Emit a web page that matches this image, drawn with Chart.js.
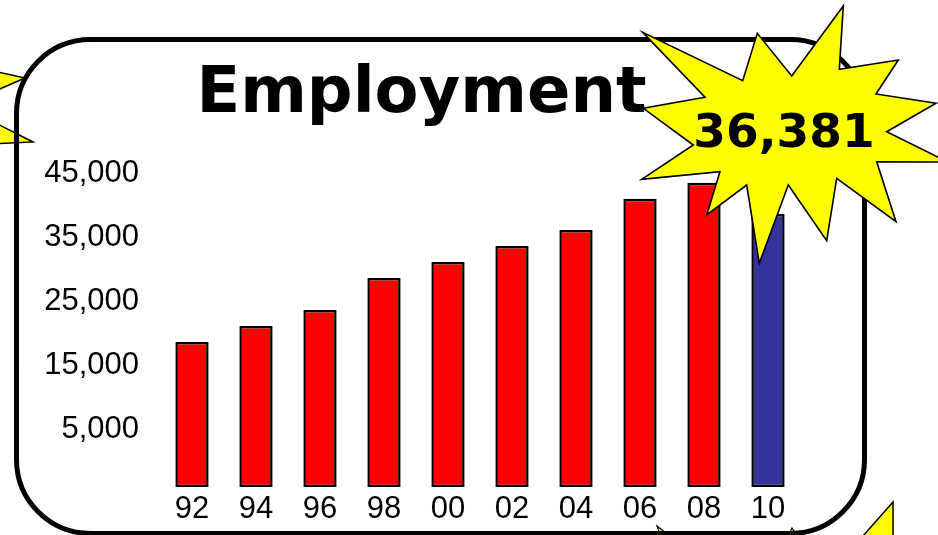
<!DOCTYPE html>
<html>
<head>
<meta charset="utf-8">
<title>Employment</title>
<script src="https://cdn.jsdelivr.net/npm/chart.js@4.4.1/dist/chart.umd.min.js"></script>
<style>
  body { margin: 0; background: #fff; }
  #mycanvas { display: block; }
</style>
</head>
<body>
<canvas id="mycanvas" width="938" height="535"></canvas>
<script>
// values (axis units)
var years = ['92', '94', '96', '98', '00', '02', '04', '06', '08', '10'];
var employment = [18300, 20800, 23300, 28300, 30800, 33300, 35800, 40700, 43200, 38300];
var barColors = ['#FF0000', '#FF0000', '#FF0000', '#FF0000', '#FF0000',
                 '#FF0000', '#FF0000', '#FF0000', '#FF0000', '#333399'];
var yTicks = [5000, 15000, 25000, 35000, 45000];
var yMin = -4390;
var yMax = 48350;
var highlight = '36,381';

function drawPoly(ctx, pts, fill, stroke, lw) {
	ctx.beginPath();
	ctx.moveTo(pts[0][0], pts[0][1]);
	for (var i = 1; i < pts.length; i++) ctx.lineTo(pts[i][0], pts[i][1]);
	ctx.closePath();
	ctx.fillStyle = fill;
	ctx.fill();
	ctx.lineWidth = lw;
	ctx.strokeStyle = stroke;
	ctx.lineJoin = 'miter';
	ctx.stroke();
}

// frame, bursts and the call-out number
var decorations = {
	id: 'decorations',
	afterDraw: function(chart) {
		var ctx = chart.ctx;
		ctx.save();

		// bits of other bursts peeking from behind the frame
		drawPoly(ctx, [[-30, 66], [25, 78], [-30, 102]], '#FFFF00', '#000', 1.5);
		drawPoly(ctx, [[-30, 110], [33, 142], [-30, 145]], '#FFFF00', '#000', 1.5);
		drawPoly(ctx, [[893, 502], [893, 545], [855, 545]], '#FFFF00', '#000', 1.5);
		drawPoly(ctx, [[657, 526], [675, 540], [662, 540]], '#FFFF00', '#000', 1.2);
		drawPoly(ctx, [[792, 528], [800, 540], [786, 540]], '#FFFF00', '#000', 1.2);

		// rounded frame
		var x0 = 16.5, y0 = 39.5, x1 = 864.5, y1 = 533.5, r = 74;
		ctx.beginPath();
		ctx.moveTo(x0 + r, y0);
		ctx.arcTo(x1, y0, x1, y1, r);
		ctx.arcTo(x1, y1, x0, y1, r);
		ctx.arcTo(x0, y1, x0, y0, r);
		ctx.arcTo(x0, y0, x1, y0, r);
		ctx.closePath();
		ctx.lineWidth = 5;
		ctx.strokeStyle = '#000';
		ctx.stroke();

		// big burst
		var star = [
			[843.3, 6], [839.3, 69.3], [898.3, 60], [876, 94], [936, 103.3], [886.7, 131.7],
			[948, 162], [876.7, 161.7], [896, 221.7], [836.7, 178.3], [826.7, 240.7], [788.3, 185],
			[759.3, 263.3], [746.7, 185], [706.7, 215], [720, 171.7], [641.7, 179.3], [693.3, 145],
			[643.3, 108.3], [705, 97.3], [642.7, 32.3], [742.7, 80.7], [757.3, 33.3], [791.7, 76]
		];
		drawPoly(ctx, star, '#FFFF00', '#000', 1.6);

		ctx.fillStyle = '#000';
		ctx.font = 'bold 47px "DejaVu Sans"';
		ctx.textAlign = 'center';
		ctx.textBaseline = 'alphabetic';
		ctx.fillText(highlight, 784, 146.5);
		ctx.restore();
	}
};

var chartdata = {
	labels: years,
	datasets: [
		{
			label: 'Employment',
			data: employment,
			base: yMin,
			backgroundColor: barColors,
			borderColor: '#000',
			borderWidth: 2.5,
			borderSkipped: false,
			barPercentage: 0.52,
			categoryPercentage: 1.0
		}
	]
};

var ctx = document.getElementById('mycanvas');

var barGraph = new Chart(ctx, {
	type: 'bar',
	data: chartdata,
	plugins: [decorations],
	options: {
		responsive: false,
		animation: false,
		devicePixelRatio: 1,
		layout: { padding: { left: 43, right: 138, top: 0, bottom: 0 } },
		plugins: {
			legend: { display: false },
			tooltip: { enabled: false },
			title: {
				display: true,
				text: 'Employment',
				color: '#000',
				font: { family: 'DejaVu Sans', size: 64, weight: 'bold', lineHeight: 1.2 },
				padding: { top: 57, bottom: 16 }
			}
		},
		scales: {
			x: {
				grid: { display: false, drawTicks: false },
				border: { display: false },
				ticks: {
					color: '#000',
					padding: 4,
					font: { family: 'Liberation Sans', size: 31 }
				},
				afterFit: function(scale) { scale.height = 48; }
			},
			y: {
				min: yMin,
				max: yMax,
				grid: { display: false, drawTicks: false },
				border: { display: false },
				afterBuildTicks: function(scale) {
					scale.ticks = yTicks.map(function(v) { return { value: v }; });
				},
				ticks: {
					color: '#000',
					padding: 21,
					labelOffset: 2.5,
					font: { family: 'Liberation Sans', size: 31 },
					callback: function(value) { return Number(value).toLocaleString('en-US'); }
				},
				afterFit: function(scale) { scale.width = 117; }
			}
		}
	}
});
</script>
</body>
</html>
